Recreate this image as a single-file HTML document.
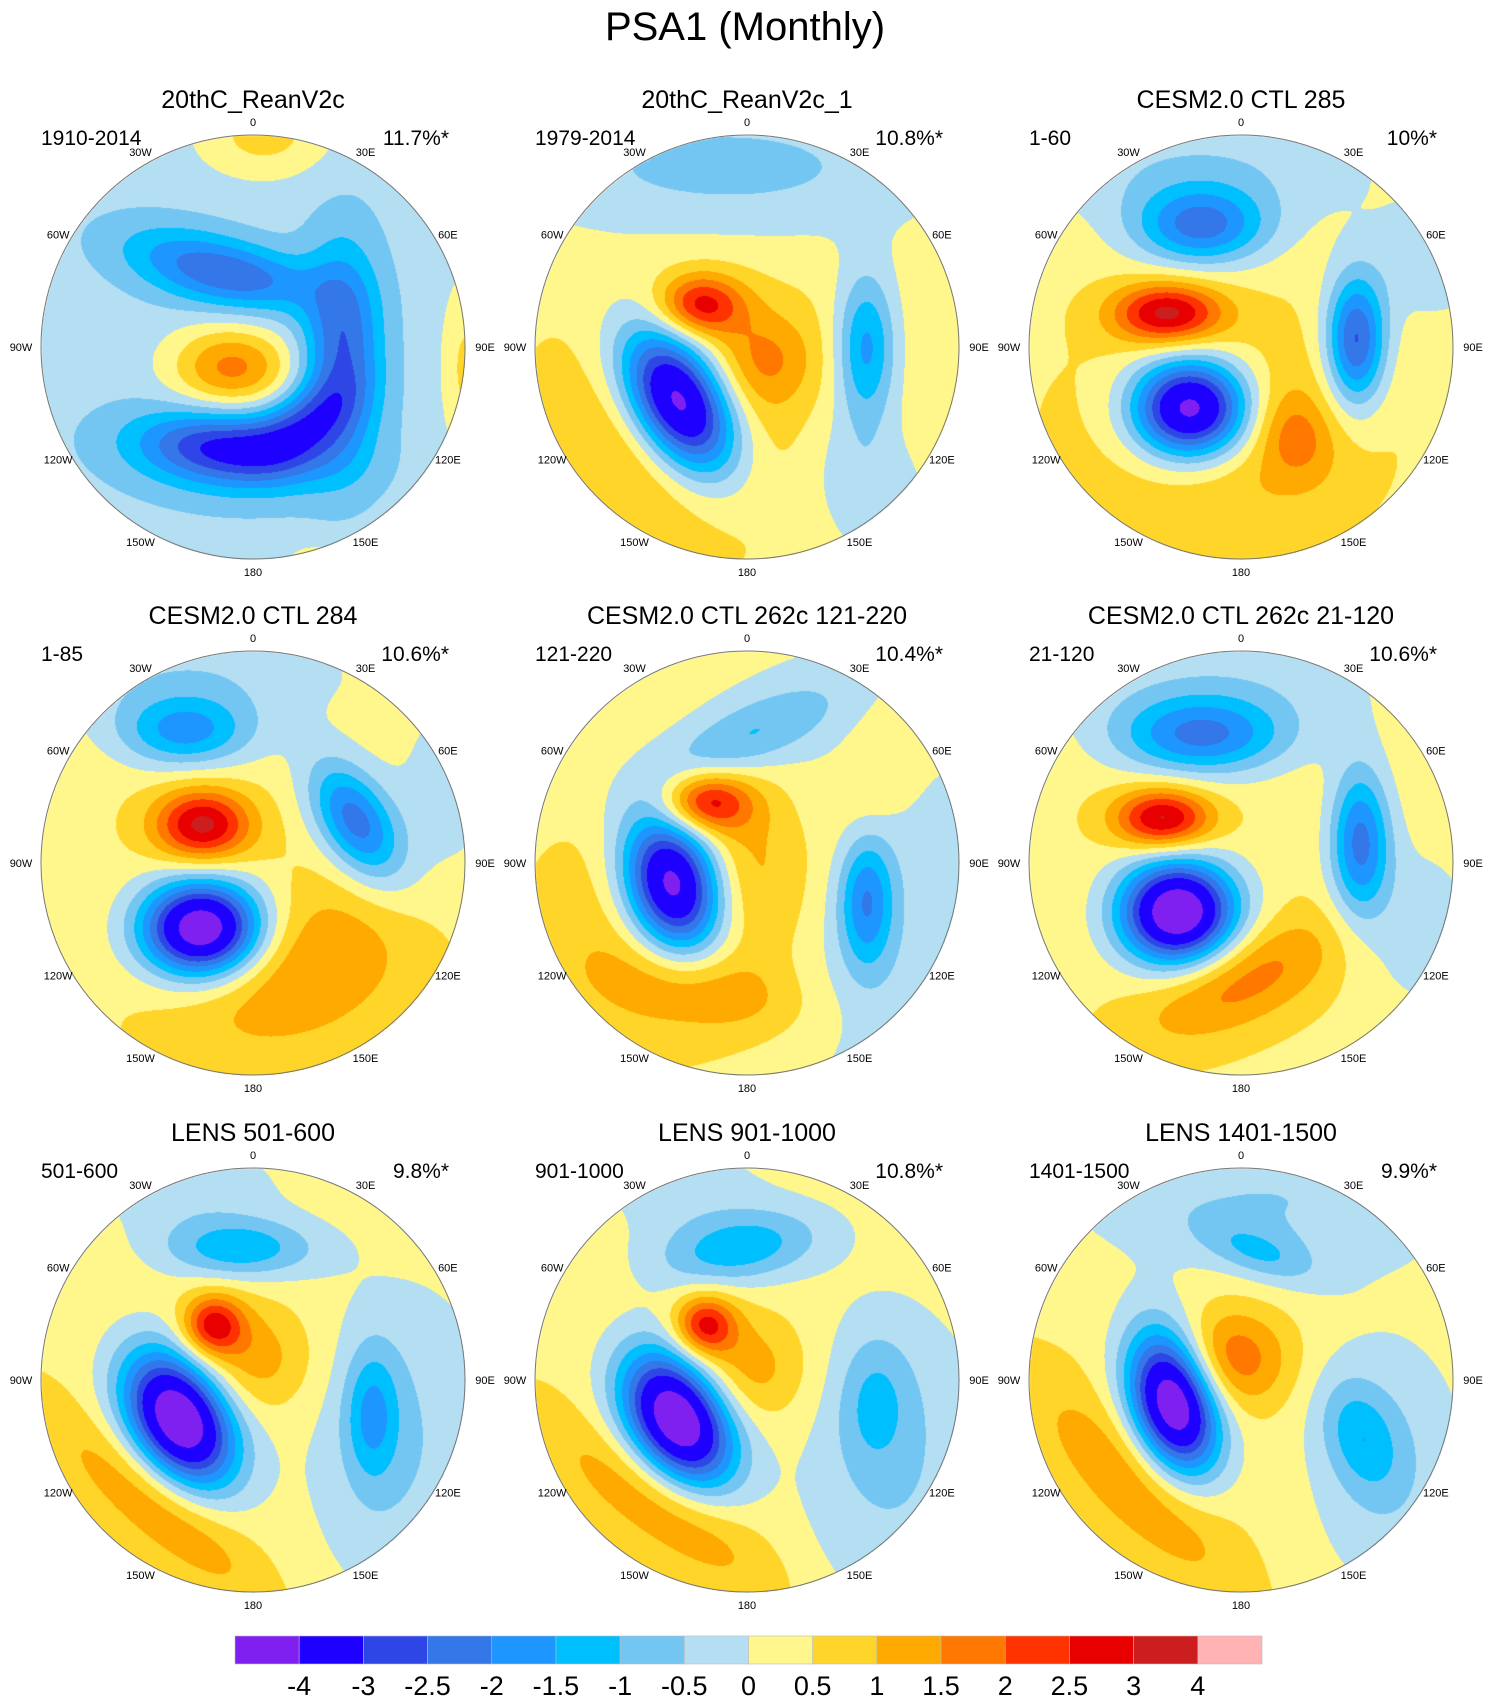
<!DOCTYPE html>
<html><head><meta charset="utf-8"><style>
html,body{margin:0;padding:0;background:#fff;}
#wrap{position:relative;width:1491px;height:1705px;overflow:hidden;font-family:"Liberation Sans",sans-serif;}
canvas,svg{position:absolute;left:0;top:0;}
</style></head><body>
<div id="wrap">
<canvas id="cv" width="1491" height="1705"></canvas>
<svg id="sv" width="1491" height="1705">
<text x="745" y="40" font-size="40" text-anchor="middle" font-family="Liberation Sans, sans-serif">PSA1 (Monthly)</text>
</svg>
</div>
<script>
const levels=[-4,-3,-2.5,-2,-1.5,-1,-0.5,0,0.5,1,1.5,2,2.5,3,4];
const colors=["#8020F0","#1E00FF","#2E46E6","#3377E8","#1E96FF","#00BFFF","#74C6F2","#B4DEF2","#FFF68C","#FFD52A","#FFAA00","#FF7800","#FF3300","#E80000","#CC1E1E","#FFB3B3"];
const tickLabels=["-4","-3","-2.5","-2","-1.5","-1","-0.5","0","0.5","1","1.5","2","2.5","3","4"];
const titles=["20thC_ReanV2c","20thC_ReanV2c_1","CESM2.0 CTL 285","CESM2.0 CTL 284","CESM2.0 CTL 262c 121-220","CESM2.0 CTL 262c 21-120","LENS 501-600","LENS 901-1000","LENS 1401-1500"];
const periods=["1910-2014","1979-2014","1-60","1-85","121-220","21-120","501-600","901-1000","1401-1500"];
const pcts=["11.7%*","10.8%*","10%*","10.6%*","10.4%*","10.6%*","9.8%*","10.8%*","9.9%*"];
const bases=[-0.3,0.35,0.35,0.4,0.1,0.4,0.4,0.4,0.4];
// blobs: [u, v, sigmaU, sigmaV, rotationDeg, amplitude]
const blobs1=[[-0.25,-0.38,0.28,0.12,15,-1.7],[0.05,-0.32,0.22,0.1,10,-0.9],[0.42,0.0,0.13,0.34,0,-2.2],[-0.12,0.48,0.3,0.12,5,-2.6],[0.25,0.35,0.18,0.11,-35,-1.7],[-0.1,0.1,0.2,0.14,0,2.0],[-0.1,0.5,0.4,0.2,0,-0.4],[0.05,-1.0,0.22,0.14,0,1.0],[1.0,0.1,0.08,0.3,0,0.9],[0.3,1.0,0.1,0.05,0,0.7]];
const blobs2=[[-0.32,0.26,0.16,0.27,-30,-5.6],[-0.22,-0.2,0.14,0.1,0,2.2],[-0.3,0.35,0.42,0.38,-30,1.2],[0.56,0,0.1,0.25,0,-2.0],[-0.1,-0.85,0.8,0.25,0,-1.0],[0.55,0.65,0.2,0.3,-30,-0.8],[0.1,0.05,0.15,0.15,0,0.8]];
const blobs3=[[-0.19,-0.57,0.22,0.13,0,-2.4],[-0.2,-0.85,0.6,0.2,0,-0.8],[-0.35,-0.16,0.18,0.1,0,2.7],[-0.24,0.29,0.2,0.17,0,-5.4],[0.54,-0.03,0.1,0.22,0,-3],[0.25,0.42,0.12,0.15,-20,0.9],[-0.1,0.4,0.45,0.35,0,1.0],[0.9,-0.4,0.2,0.2,0,-0.7]];
const blobs4=[[-0.32,-0.62,0.22,0.12,0,-1.9],[-0.3,-0.9,0.6,0.2,0,-0.8],[-0.24,-0.18,0.16,0.12,0,2.8],[-0.24,0.31,0.2,0.16,0,-5.4],[0.48,-0.2,0.12,0.22,-30,-2.6],[0.2,0.5,0.4,0.25,-20,1.2],[0.9,-0.3,0.2,0.35,0,-0.6]];
const blobs5=[[-0.04,-0.58,0.35,0.12,-25,-1.3],[-0.2,-0.29,0.15,0.1,0,2.4],[-0.35,0.1,0.16,0.24,-15,-5.4],[-0.4,0.3,0.5,0.5,0,1.0],[0.0,0.0,0.25,0.3,0,0.7],[0.56,0.18,0.09,0.22,0,-1.9],[-0.2,0.6,0.35,0.13,10,0.8],[0.6,-0.4,0.12,0.25,20,0.6],[0.55,0.3,0.35,0.6,0,-0.5]];
const blobs6=[[-0.19,-0.6,0.28,0.13,0,-2.3],[-0.1,-0.85,0.6,0.2,0,-0.7],[-0.37,-0.21,0.16,0.1,0,2.8],[-0.3,0.23,0.19,0.17,0,-5.4],[0.56,-0.1,0.1,0.25,0,-2.5],[0.85,0.3,0.2,0.3,0,-0.7],[0,0.55,0.35,0.15,-25,1.4]];
const blobs7=[[-0.06,-0.62,0.25,0.1,0,-1.6],[-0.19,-0.26,0.1,0.1,0,2.3],[0.0,-0.1,0.2,0.18,0,1.0],[-0.35,0.18,0.16,0.24,-30,-5.4],[0.56,0.16,0.09,0.22,0,-1.4],[0.7,0.3,0.35,0.6,0,-0.9],[-0.45,0.6,0.45,0.13,40,1.1],[-0.3,-0.9,0.35,0.2,0,-0.7]];
const blobs8=[[-0.04,-0.62,0.28,0.12,-10,-1.6],[-0.2,-0.26,0.1,0.1,0,2.3],[0.0,-0.05,0.2,0.18,0,1.0],[-0.33,0.18,0.16,0.24,-30,-5.4],[0.6,0.1,0.12,0.22,0,-0.9],[0.7,0.4,0.35,0.6,0,-0.9],[-0.4,0.6,0.45,0.14,35,1.1],[-0.3,-0.9,0.35,0.2,0,-0.6]];
const blobs9=[[0.09,-0.6,0.2,0.08,20,-1.0],[0.1,-0.85,0.7,0.25,0,-0.9],[-0.06,-0.1,0.2,0.17,0,1.6],[-0.32,0.1,0.14,0.24,-15,-5.4],[0.56,0.26,0.12,0.2,-20,-1.2],[0.7,0.4,0.3,0.5,0,-0.8],[-0.5,0.5,0.45,0.15,45,1.1]];
const allBlobs=[blobs1,blobs2,blobs3,blobs4,blobs5,blobs6,blobs7,blobs8,blobs9];
const colX=[253,747,1241], rowY=[347,863,1380], R=212;
const lonLabels=["0","30E","60E","90E","120E","150E","180","150W","120W","90W","60W","30W"];

function hex(c){return [parseInt(c.slice(1,3),16),parseInt(c.slice(3,5),16),parseInt(c.slice(5,7),16)];}
const rgb=colors.map(hex);
function colorIndex(f){let i=0;while(i<levels.length&&f>=levels[i])i++;return i;}

const cv=document.getElementById('cv');const ctx=cv.getContext('2d');
const img=ctx.createImageData(1491,1705);const d=img.data;
for(let k=0;k<9;k++){
  const cx=colX[k%3],cy=rowY[Math.floor(k/3)],bl=allBlobs[k].map(b=>{const t=b[4]*Math.PI/180;return [b[0],b[1],b[2],b[3],Math.cos(t),Math.sin(t),b[5]];});
  for(let y=cy-R;y<=cy+R;y++){for(let x=cx-R;x<=cx+R;x++){
    const u=(x-cx)/R,v=(y-cy)/R;if(u*u+v*v>1)continue;
    let f=bases[k];
    for(const b of bl){const du=u-b[0],dv=v-b[1];const a=(b[4]*du+b[5]*dv)/b[2],c=(-b[5]*du+b[4]*dv)/b[3];f+=b[6]*Math.exp(-0.5*(a*a+c*c));}
    const col=rgb[colorIndex(f)];const p=(y*1491+x)*4;d[p]=col[0];d[p+1]=col[1];d[p+2]=col[2];d[p+3]=255;
  }}
}
ctx.putImageData(img,0,0);

const sv=document.getElementById('sv');const NS="http://www.w3.org/2000/svg";
function mk(tag,attrs,txt){const e=document.createElementNS(NS,tag);for(const k in attrs)e.setAttribute(k,attrs[k]);if(txt!==undefined)e.textContent=txt;sv.appendChild(e);return e;}
for(let k=0;k<9;k++){
  const cx=colX[k%3],cy=rowY[Math.floor(k/3)];
  const c=mk('circle',{cx:cx,cy:cy,r:R,fill:'none',stroke:'#777','stroke-width':1});
  
  
  const t=mk('text',{x:cx,y:cy-239,'font-size':25,'text-anchor':'middle'},titles[k]);
  
  
  const l=mk('text',{x:cx-212,y:cy-202,'font-size':21},periods[k]);
  
  
  const p=mk('text',{x:cx+196,y:cy-202,'font-size':21,'text-anchor':'end'},pcts[k]);
  
  
  for(let j=0;j<12;j++){
    const a=j*30*Math.PI/180;const rr=(j%6===3)?232:225;
    const lx=cx+rr*Math.sin(a),ly=cy-rr*Math.cos(a)+4;
    const lt=mk('text',{x:lx,y:ly,'font-size':11,'text-anchor':'middle'},lonLabels[j]);
    
    
  }
}
const cbX0=235,cbX1=1262,cbY=1636,cbH=28,bw=(cbX1-cbX0)/colors.length;
for(let i=0;i<colors.length;i++){
  const r=mk('rect',{x:cbX0+i*bw,y:cbY,width:bw,height:cbH,fill:colors[i],stroke:'#bbb','stroke-width':0.6});
  
  
}
for(let i=0;i<tickLabels.length;i++){
  const t=mk('text',{x:cbX0+(i+1)*bw,y:1695,'font-size':27,'text-anchor':'middle'},tickLabels[i]);
  
  
}
</script>
</body></html>
